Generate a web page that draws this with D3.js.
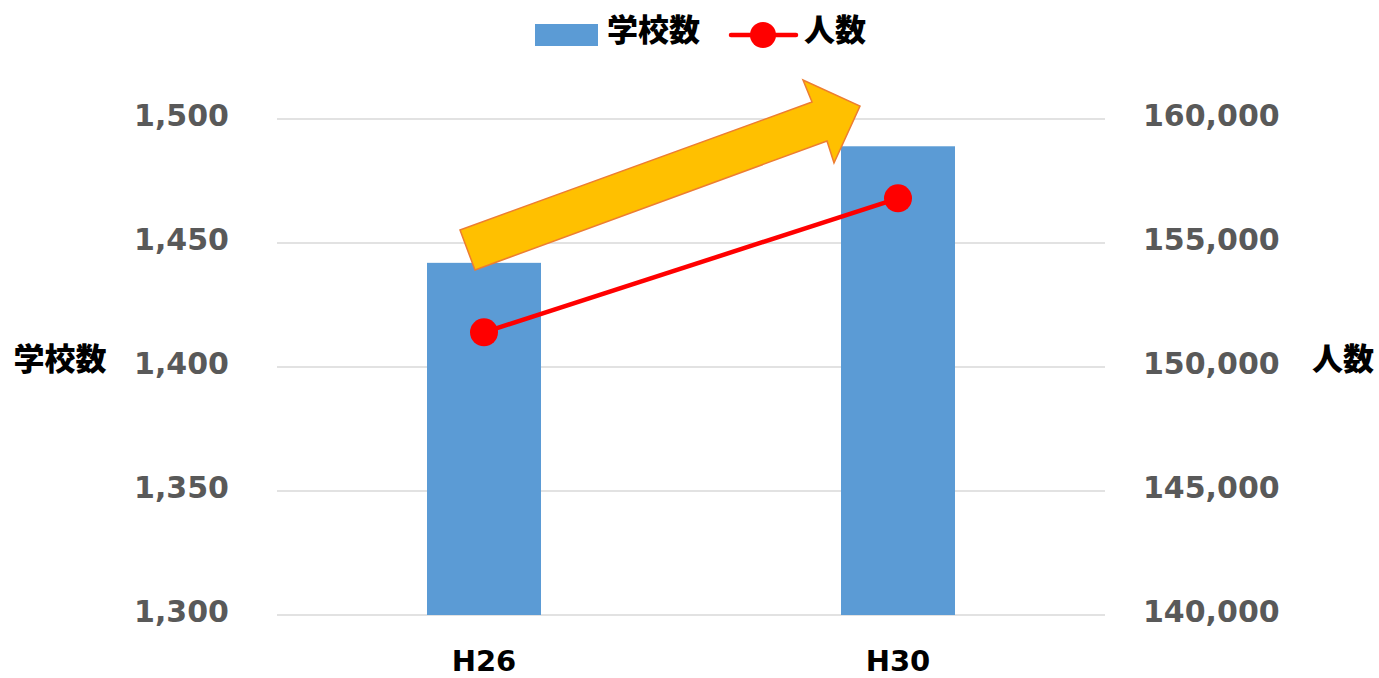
<!doctype html>
<html>
<head>
<meta charset="utf-8"/>
<style>
    html, body { margin: 0; width: 100%; height: 100%; background: #fff; }
    svg { position: absolute; top: 0; left: 0; }
    .tick text { font-family: "DejaVu Sans", Verdana, sans-serif; font-weight: bold; }
</style>
<script src="https://d3js.org/d3.v7.min.js"></script>
</head>
<body>
<svg width="1379" height="678"></svg>
<script>
// --- data ---
var categories = ["H26", "H30"];
var schools = [1442, 1489];          // 学校数 (left axis)
var students = [151400, 156800];     // 人数 (right axis)
var leftTicks = [1300, 1350, 1400, 1450, 1500];
var rightTicks = [140000, 145000, 150000, 155000, 160000];

var svg = d3.select("svg");
var margin = {top: 119, right: 274, bottom: 63, left: 277};
var width = 1379, height = 678;

var x = d3.scalePoint().domain(categories)
    .range([margin.left, width - margin.right])
    .padding(0.5);
var yL = d3.scaleLinear().domain([1300, 1500]).range([height - margin.bottom, margin.top]);
var yR = d3.scaleLinear().domain([140000, 160000]).range([height - margin.bottom, margin.top]);
var fmt = d3.format(",");

// gridlines
svg.append("g").selectAll("line").data(leftTicks).enter().append("line")
    .attr("x1", margin.left).attr("x2", width - margin.right)
    .attr("y1", function(d) { return yL(d); }).attr("y2", function(d) { return yL(d); })
    .attr("stroke", "#d9d9d9").attr("stroke-width", 1.3);

// left axis
var gl = svg.append("g").attr("transform", "translate(229,0)")
    .call(d3.axisLeft(yL).tickValues(leftTicks).tickFormat(fmt).tickSize(0).tickPadding(0));
gl.select(".domain").remove();
gl.selectAll("text").attr("fill", "#595959").style("font-size", "30px").attr("dy", "0.23em");

// right axis
var gr = svg.append("g").attr("transform", "translate(1143,0)")
    .call(d3.axisRight(yR).tickValues(rightTicks).tickFormat(fmt).tickSize(0).tickPadding(0));
gr.select(".domain").remove();
gr.selectAll("text").attr("fill", "#595959").style("font-size", "30px").attr("dy", "0.23em");

// bars
svg.append("g").selectAll("rect").data(categories).enter().append("rect")
    .attr("x", function(d) { return x(d) - 57; })
    .attr("width", 114)
    .attr("y", function(d, i) { return yL(schools[i]); })
    .attr("height", function(d, i) { return yL(1300) - yL(schools[i]); })
    .attr("fill", "#5b9bd5");

// x labels
svg.append("g").selectAll("text").data(categories).enter().append("text")
    .attr("x", x).attr("y", 671)
    .attr("text-anchor", "middle")
    .style("font-family", "'DejaVu Sans', Verdana, sans-serif").style("font-weight", "bold")
    .style("font-size", "29px").attr("fill", "#000")
    .text(function(d) { return d; });

// arrow annotation
var arrowPts = [[475, 270], [460, 230], [812, 102], [803, 80], [860, 106], [834, 163], [827, 141]];
svg.append("polygon")
    .attr("points", arrowPts.map(function(p) { return p.join(","); }).join(" "))
    .attr("fill", "#ffc000").attr("stroke", "#ed7d31").attr("stroke-width", 1.5)
    .attr("stroke-linejoin", "miter");

// line
var line = d3.line().x(function(d, i) { return x(categories[i]); }).y(function(d) { return yR(d); });
svg.append("path").datum(students).attr("d", line)
    .attr("fill", "none").attr("stroke", "#ff0000").attr("stroke-width", 4.5);
svg.append("g").selectAll("circle").data(students).enter().append("circle")
    .attr("cx", function(d, i) { return x(categories[i]); })
    .attr("cy", function(d) { return yR(d); })
    .attr("r", 14).attr("fill", "#ff0000");

// axis titles
var cjk = "'Noto Sans CJK JP', sans-serif";
svg.append("text").attr("x", 60).attr("y", 362).attr("text-anchor", "middle")
    .attr("dominant-baseline", "middle")
    .style("font-family", cjk).style("font-weight", "900").style("font-size", "31px").text("学校数");
svg.append("text").attr("x", 1343).attr("y", 362).attr("text-anchor", "middle")
    .attr("dominant-baseline", "middle")
    .style("font-family", cjk).style("font-weight", "900").style("font-size", "31px").text("人数");

// legend
var lg = svg.append("g");
lg.append("rect").attr("x", 535).attr("y", 24).attr("width", 63).attr("height", 22).attr("fill", "#5b9bd5");
lg.append("text").attr("x", 607).attr("y", 33).attr("dominant-baseline", "middle")
    .style("font-family", cjk).style("font-weight", "900").style("font-size", "31px").text("学校数");
lg.append("line").attr("x1", 731).attr("x2", 796).attr("y1", 35).attr("y2", 35)
    .attr("stroke", "#ff0000").attr("stroke-width", 4.5).attr("stroke-linecap", "round");
lg.append("circle").attr("cx", 763).attr("cy", 35).attr("r", 13).attr("fill", "#ff0000");
lg.append("text").attr("x", 804).attr("y", 33).attr("dominant-baseline", "middle")
    .style("font-family", cjk).style("font-weight", "900").style("font-size", "31px").text("人数");
</script>
</body>
</html>
